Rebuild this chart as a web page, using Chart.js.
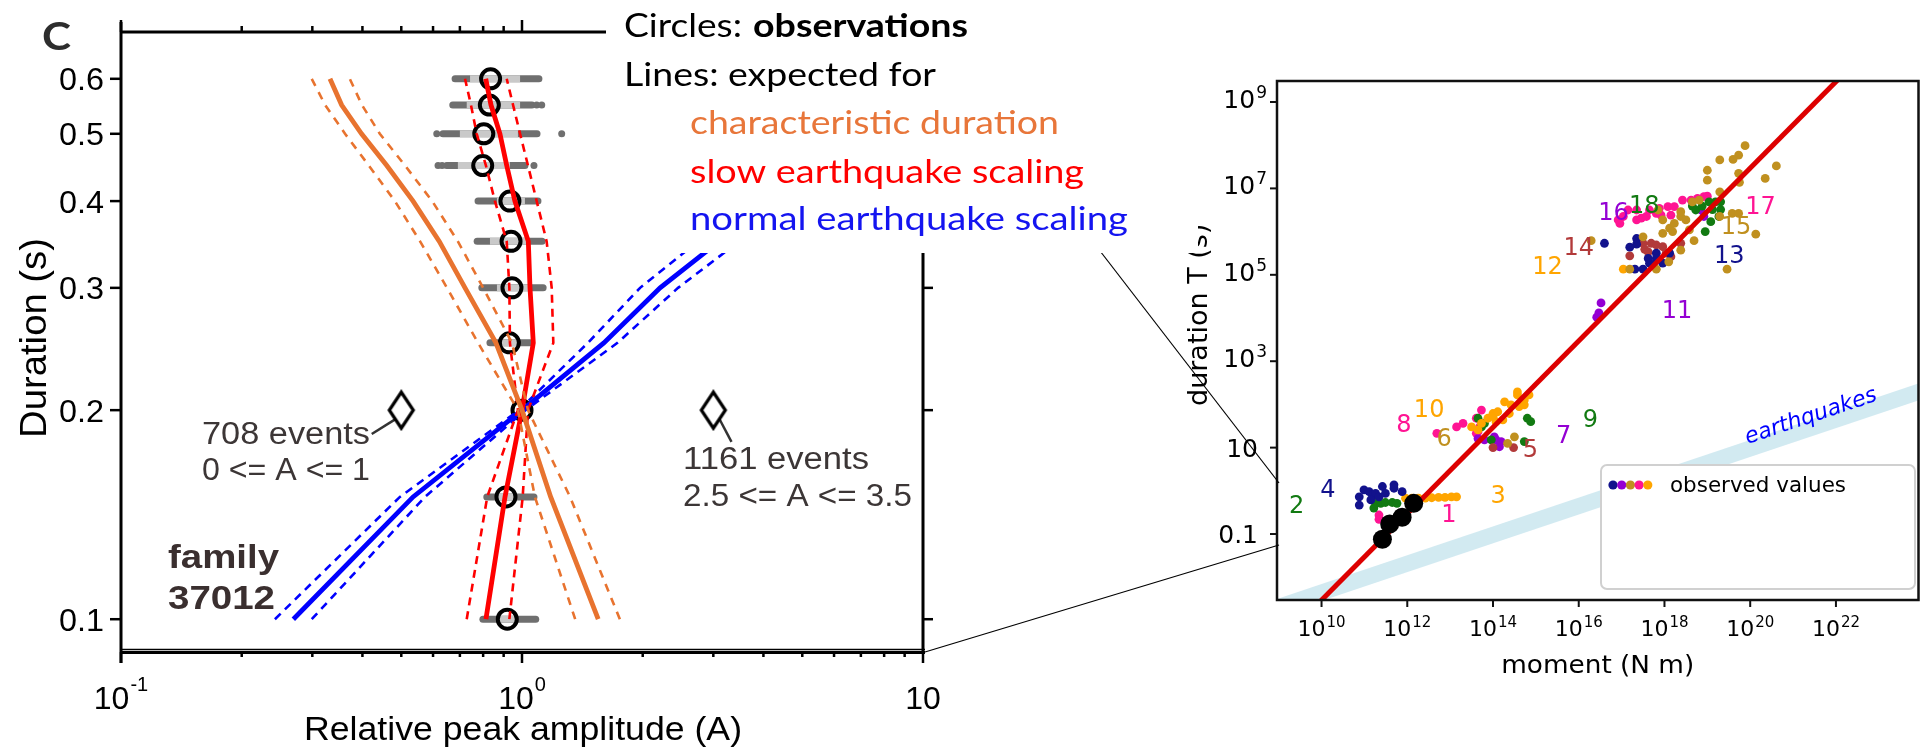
<!DOCTYPE html>
<html>
<head>
<meta charset="utf-8">
<script src="https://cdn.jsdelivr.net/npm/chart.js@4.4.0/dist/chart.umd.min.js"></script>
<style>
  html, body { margin: 0; padding: 0; background: #fff; }
  #wrap { position: relative; width: 1928px; height: 751px; overflow: hidden; background: #fff; }
  #right { position: absolute; left: 1150px; top: 0; z-index: 1; }
  #left { position: absolute; left: 0; top: 0; z-index: 2; }
</style>
</head>
<body>
<div id="wrap">
  <canvas id="right" width="778" height="751"></canvas>
  <canvas id="left" width="1928" height="751"></canvas>
</div>
<script>
// ---------- panel C: relative amplitude vs duration ----------
const durations = [0.1, 0.15, 0.2, 0.25, 0.3, 0.35, 0.4, 0.45, 0.5, 0.55, 0.6];

// observed medians (circles) and spread of individual events (grey bars)
const obsAmp   = [0.919, 0.912, 1.0, 0.930, 0.944, 0.939, 0.933, 0.798, 0.803, 0.829, 0.835];
const spreadLo = [0.799, 0.817, null, 0.832, 0.794, 0.773, 0.777, 0.649, 0.635, 0.672, 0.681];
const boxLo    = [0.865, 0.871, null, 0.891, 0.866, 0.832, 0.866, 0.692, 0.700, 0.728, 0.742];
const boxHi    = [0.970, 0.970, null, 0.977, 1.035, 1.035, 1.017, 0.933, 0.977, 0.989, 0.989];
const spreadHi = [1.082, 1.071, null, 1.047, 1.129, 1.122, 1.096, 1.017, 1.090, 1.059, 1.102];
const outlierAmp = [0.6175, 0.632, 1.071, 0.613, 1.256, 1.088, 1.12];
const outlierDur = [0.45, 0.45, 0.45, 0.5, 0.5, 0.55, 0.55];

// expected curves: characteristic duration (orange)
const charAmp = [1.549, 1.179, 1.0, 0.861, 0.721, 0.622, 0.535, 0.460, 0.398, 0.355, 0.332];
const charLo  = [1.357, 1.077, 0.977, 0.777, 0.650, 0.557, 0.482, 0.415, 0.362, 0.323, 0.299];
const charHi  = [1.754, 1.318, 1.035, 0.944, 0.800, 0.692, 0.597, 0.511, 0.442, 0.399, 0.372];
// slow earthquake scaling (red)
const slowAmp = [0.813, 0.907, 1.0, 1.067, 1.047, 1.037, 0.960, 0.916, 0.881, 0.837, 0.812];
const slowLo  = [0.728, 0.819, 0.977, 0.933, 0.930, 0.916, 0.856, 0.813, 0.771, 0.746, 0.721];
const slowHi  = [0.930, 1.004, 1.035, 1.197, 1.186, 1.152, 1.088, 1.035, 0.989, 0.950, 0.916];
// normal earthquake scaling (blue)
const normDur = [0.1, 0.15, 0.2, 0.25, 0.3, 0.35];
const normAmp = [0.269, 0.535, 1.0, 1.60, 2.21, 3.10];
const normLo  = [0.242, 0.496, 0.983, 1.46, 1.97, 2.75];
const normHi  = [0.299, 0.573, 1.02, 1.73, 2.45, 3.48];

// amplitude bins (diamonds) and their leader lines
const binAmp = [0.5, 3.0];
const binDur = [0.2, 0.2];
const leaderLeftAmp  = [0.422, 0.487];
const leaderLeftDur  = [0.1848, 0.1946];
const leaderRightAmp = [3.10, 3.33];
const leaderRightDur = [0.1947, 0.180];

const leftYTicks = [0.1, 0.2, 0.3, 0.4, 0.5, 0.6];
const leftYLabels = ['0.1', '0.2', '0.3', '0.4', '0.5', '0.6'];
const leftXMajor = [0.1, 1, 10];
const leftXLabels = [['10', '-1'], ['10', '0'], ['10', '']];
const leftXMinor = [0.2, 0.3, 0.4, 0.5, 0.6, 0.7, 0.8, 0.9, 2, 3, 4, 5, 6, 7, 8, 9];

// ---------- inset: moment vs duration, values as log10 ----------
const pinkPts = [[16.96,6.19],[17.04,6.35],[17.15,6.50],[17.35,6.50],[17.35,6.27],[17.46,6.31],[17.58,6.35],
  [17.65,6.50],[17.81,6.42],[17.88,6.54],[18.08,6.58],[18.15,6.38],[18.23,6.58],[18.42,6.73],[18.62,6.73],
  [18.77,6.77],[18.92,6.81],[19.00,6.82],[17.92,6.38],[16.92,6.27],
  [12.69,1.33],[13.15,1.48],[13.30,1.56],[13.61,1.68],[13.73,1.87],[13.69,1.48],[13.65,1.37],[13.61,1.33],
  [11.34,-0.56],[11.34,-0.66]];
const greenPts = [[18.65,6.59],[19.04,6.69],[19.19,6.69],[19.31,6.69],[19.12,6.51],[19.31,6.51],[19.08,6.23],
  [18.95,6.00],[19.27,6.35],[18.73,6.50],[18.88,6.59],
  [13.65,1.68],[13.80,1.56],[13.73,1.48],[13.96,1.18],[14.80,1.68],[14.88,1.60],[14.73,1.14],
  [11.22,-0.40],[11.26,-0.29],[11.38,-0.29],[11.49,-0.27],[11.65,-0.27],[11.76,-0.29]];
const orangePts = [[17.04,5.13],
  [13.73,1.56],[13.88,1.68],[14.00,1.79],[14.11,1.83],[14.27,2.06],[14.42,1.99],[14.57,2.22],[14.73,2.10],
  [14.84,2.22],[14.61,1.95],[14.38,1.79],[14.23,1.64],[14.07,1.60],[13.50,1.48],[13.65,1.41],[14.00,1.72],
  [14.57,2.29],[14.73,1.99],
  [11.96,-0.17],[12.11,-0.17],[12.26,-0.17],[12.42,-0.17],[12.57,-0.16],[12.73,-0.15],[12.88,-0.15],
  [13.03,-0.14],[13.15,-0.14]];
const navyPts = [[16.60,5.73],[17.35,5.84],[17.35,5.71],[17.19,5.64],[17.31,5.13],[17.50,5.13],[17.65,5.27],
  [17.81,5.50],[17.96,5.27],[18.12,5.50],[17.81,5.38],[17.62,5.38],[17.73,5.23],
  [10.88,-0.14],[10.88,-0.33],[10.99,0.02],[11.11,-0.02],[11.19,-0.10],[11.26,-0.06],[11.34,-0.14],
  [11.42,0.10],[11.49,-0.06],[11.69,0.14],[11.69,0.06],[11.88,-0.02],[11.15,-0.21]];
const brownPts = [[17.19,5.44],[17.50,5.73],[17.54,5.59],[17.69,5.73],[17.81,5.69],[17.96,5.65],[18.04,5.50],
  [18.15,5.42],[18.38,5.73],[17.62,5.53],[14.00,1.00],[14.48,1.00]];
const goldPts = [[19.88,7.99],[19.73,7.77],[19.60,7.67],[19.29,7.66],[19.00,7.42],[19.00,7.19],[19.73,7.35],
  [20.61,7.52],[20.35,7.23],[19.75,7.14],[20.13,5.94],[19.58,6.42],[19.73,6.42],[19.46,5.13],[19.29,6.92],
  [19.29,6.35],[18.69,5.79],[18.38,5.57],[18.10,5.30],[17.81,5.13],[17.19,5.13],[17.50,5.88],[16.29,5.79],
  [17.96,6.27],[18.12,6.08],[18.23,6.19],[18.38,6.35],[18.50,6.27],[18.58,6.04],[17.96,5.96],[18.19,6.00],
  [18.81,6.73],[18.38,6.46],[18.65,6.69],[17.85,6.50],[14.34,1.10],[14.50,1.25]];
const purplePts = [[18.85,6.50],[18.92,6.35],
  [13.65,1.21],[13.80,1.18],[14.03,1.25],[14.19,1.14],[14.07,1.18],[14.15,1.02],
  [16.52,4.35],[16.47,4.12],[16.42,4.02]];
const familyPts = [[11.42,-1.12],[11.59,-0.77],[11.88,-0.61],[12.15,-0.29]];

const groupLabels = [['1',12.97,-0.58,'pink'],['2',9.42,-0.37,'green'],['3',14.12,-0.14,'orange'],
  ['4',10.15,0.0,'navy'],['5',14.87,0.93,'brown'],['6',12.86,1.18,'gold'],['7',15.65,1.24,'purple'],
  ['8',11.92,1.5,'pink'],['9',16.27,1.62,'green'],['10',12.51,1.85,'orange'],['11',18.29,4.14,'purple'],
  ['12',15.27,5.16,'orange'],['13',19.51,5.42,'navy'],['14',16.0,5.60,'brown'],['15',19.67,6.08,'gold'],
  ['16',16.81,6.41,'purple'],['17',20.24,6.56,'pink'],['18',17.53,6.58,'green']];

// scaling lines: slow (T ~ M) and regular earthquakes (T ~ M^1/3)
const slowMoment = [1e9, 1e24];
const slowDuration = [2.95e-4, 2.95e11];
const quakeMoment = [1e9, 1e24];
const quakeDuration = [2.06e-3, 2.06e2];

const rightXTicks = [1e10, 1e12, 1e14, 1e16, 1e18, 1e20, 1e22];
const rightXExp = ['10', '12', '14', '16', '18', '20', '22'];
const rightYTicks = [0.1, 10, 1e3, 1e5, 1e7, 1e9];
const rightYLabels = [['0.1', ''], ['10', ''], ['10', '3'], ['10', '5'], ['10', '7'], ['10', '9']];

const colors = {
  pink: '#ff1493', green: '#127a12', orange: '#ffa500', navy: '#12128c',
  brown: '#b23a3a', gold: '#c0901f', purple: '#9400d3'
};
const ORANGE = '#e8732f', RED = '#ff0000', BLUE = '#0000ff';
const GREY_DARK = '#6f6f6f', GREY_LIGHT = '#c9c9c9';

// ---------- helpers ----------
const xy = (xs, ys) => xs.map((x, i) => ({ x: x, y: ys[i] }));
const logPts = pts => pts.map(p => ({ x: Math.pow(10, p[0]), y: Math.pow(10, p[1]) }));

function fitText(ctx, s, x, y, w, font, color, opts) {
  opts = opts || {};
  ctx.save();
  ctx.font = font;
  ctx.fillStyle = color;
  ctx.textBaseline = opts.baseline || 'alphabetic';
  ctx.textAlign = 'left';
  const nat = ctx.measureText(s).width;
  const k = w ? w / nat : (opts.sx || 1);
  ctx.translate(x, y);
  if (opts.rot) ctx.rotate(opts.rot);
  ctx.scale(k, 1);
  let x0 = 0;
  if (opts.align === 'center') x0 = -nat / 2;
  else if (opts.align === 'right') x0 = -nat;
  ctx.fillText(s, x0, 0);
  ctx.restore();
}

function supLabel(ctx, base, sup, x, y, fBase, fSup, rise, align, k) {
  ctx.save();
  ctx.fillStyle = '#000';
  ctx.textBaseline = 'alphabetic';
  ctx.textAlign = 'left';
  ctx.font = fBase;
  const wb = ctx.measureText(base).width;
  ctx.font = fSup;
  const ws = sup ? ctx.measureText(sup).width + 1 : 0;
  const tot = wb + ws;
  ctx.translate(x, y);
  ctx.scale(k, 1);
  const x0 = align === 'center' ? -tot / 2 : align === 'right' ? -tot : 0;
  ctx.font = fBase;
  ctx.fillText(base, x0, 0);
  if (sup) {
    ctx.font = fSup;
    ctx.fillText(sup, x0 + wb + 1, -rise);
  }
  ctx.restore();
}

function seg(ctx, x1, y1, x2, y2) {
  ctx.beginPath();
  ctx.moveTo(x1, y1);
  ctx.lineTo(x2, y2);
  ctx.stroke();
}

// diamond marker for the amplitude bins
const diamond = document.createElement('canvas');
diamond.width = 30; diamond.height = 42;
(function () {
  const c = diamond.getContext('2d');
  c.beginPath();
  c.moveTo(15, 3); c.lineTo(27, 21); c.lineTo(15, 39); c.lineTo(3, 21); c.closePath();
  c.fillStyle = '#fff'; c.fill();
  c.lineWidth = 3.2; c.strokeStyle = '#000'; c.lineJoin = 'miter'; c.stroke();
})();

// ---------- panel C datasets ----------
const leftSets = [];
durations.forEach((d, i) => {
  if (spreadLo[i] === null) return;
  leftSets.push({ data: [{ x: spreadLo[i], y: d }, { x: spreadHi[i], y: d }], showLine: true,
    borderColor: GREY_DARK, borderWidth: 7, borderCapStyle: 'round', pointRadius: 0, order: 20 });
  leftSets.push({ data: [{ x: boxLo[i], y: d }, { x: boxHi[i], y: d }], showLine: true,
    borderColor: GREY_LIGHT, borderWidth: 7, borderCapStyle: 'butt', pointRadius: 0, order: 19 });
});
leftSets.push({ data: xy(outlierAmp, outlierDur), pointRadius: 3.5, backgroundColor: GREY_DARK,
  borderWidth: 0, order: 19 });
leftSets.push({ data: xy(obsAmp, durations), pointRadius: 9.5, borderWidth: 4, borderColor: '#000',
  backgroundColor: 'rgba(0,0,0,0)', order: 10 });

function curve(amps, durs, color, width, dash) {
  return { data: xy(amps, durs), showLine: true, borderColor: color, borderWidth: width,
    borderDash: dash || [], pointRadius: 0, tension: 0, order: 2 };
}
leftSets.push(curve(charLo, durations, ORANGE, 2.6, [8, 7]));
leftSets.push(curve(charHi, durations, ORANGE, 2.6, [8, 7]));
leftSets.push(curve(charAmp, durations, ORANGE, 4.8));
leftSets.push(curve(slowLo, durations, RED, 2.6, [8, 6]));
leftSets.push(curve(slowHi, durations, RED, 2.6, [8, 6]));
leftSets.push(curve(slowAmp, durations, RED, 4.8));
leftSets.push(curve(normLo, normDur, BLUE, 2.6, [8, 6]));
leftSets.push(curve(normHi, normDur, BLUE, 2.6, [8, 6]));
leftSets.push(curve(normAmp, normDur, BLUE, 4.8));
leftSets.push({ data: xy(leaderLeftAmp, leaderLeftDur), showLine: true, borderColor: '#333',
  borderWidth: 2.5, pointRadius: 0, order: 1 });
leftSets.push({ data: xy(leaderRightAmp, leaderRightDur), showLine: true, borderColor: '#333',
  borderWidth: 2.5, pointRadius: 0, order: 1 });
leftSets.push({ data: xy(binAmp, binDur), pointStyle: diamond, pointRadius: 14, order: 0 });

const LF = '"Liberation Sans", Arial, sans-serif';
const CAL = 'Lato, "Open Sans", sans-serif';

const leftDecor = {
  id: 'leftDecor',
  afterDraw(chart) {
    const ctx = chart.ctx;
    const X = v => chart.scales.x.getPixelForValue(v);
    const Y = v => chart.scales.y.getPixelForValue(v);
    const a = chart.chartArea;

    // connector lines to the inset
    ctx.save();
    ctx.strokeStyle = '#000';
    ctx.lineWidth = 1.2;
    seg(ctx, a.right + 2, 24, 1279, 483);
    seg(ctx, a.right + 2, a.bottom, 1279, 545);

    // frame
    ctx.strokeStyle = '#000';
    ctx.lineWidth = 3;
    ctx.lineCap = 'butt';
    seg(ctx, a.left, a.top, a.right, a.top);
    seg(ctx, a.left, a.top - 10, a.left, a.bottom + 11);
    seg(ctx, a.right, a.top, a.right, a.bottom);
    ctx.lineWidth = 1.5;
    seg(ctx, a.left, a.bottom - 2.5, a.right + 2, a.bottom - 2.5);
    ctx.lineWidth = 3;
    seg(ctx, a.left, a.bottom + 0.5, a.right + 2, a.bottom + 0.5);

    // ticks
    ctx.lineWidth = 2.5;
    leftXMinor.forEach(v => {
      seg(ctx, X(v), a.bottom, X(v), a.bottom + 5);
      seg(ctx, X(v), a.top, X(v), a.top - 6);
    });
    leftXMajor.forEach(v => {
      seg(ctx, X(v), a.bottom, X(v), a.bottom + 11);
      seg(ctx, X(v), a.top, X(v), a.top - 12);
    });
    leftYTicks.forEach(v => {
      seg(ctx, a.left - 11, Y(v), a.left, Y(v));
      seg(ctx, a.right, Y(v), a.right + 10, Y(v));
    });
    ctx.restore();

    // tick labels
    leftXMajor.forEach((v, i) => {
      supLabel(ctx, leftXLabels[i][0], leftXLabels[i][1], X(v), 709,
        '32px ' + LF, '20px ' + LF, 18, 'center', 1.0);
    });
    leftYTicks.forEach((v, i) => {
      fitText(ctx, leftYLabels[i], a.left - 17, Y(v) + 11.5, 45, '32px ' + LF, '#000',
        { align: 'right' });
    });

    // axis titles
    fitText(ctx, 'Relative peak amplitude (A)', 523, 740, 438, '34px ' + LF, '#000', { align: 'center' });
    fitText(ctx, 'Duration (s)', 46, 338, 200, '36px ' + LF, '#000', { align: 'center', rot: -Math.PI / 2 });

    // white block holding the key, hides the upper right corner
    ctx.fillStyle = '#fff';
    ctx.fillRect(606, 0, 592, 253);

    fitText(ctx, 'Circles:', 624, 37, 118, '32px ' + CAL, '#000');
    fitText(ctx, 'observations', 753, 37, 215, 'bold 32px ' + CAL, '#000');
    fitText(ctx, 'Lines: expected for', 624, 86, 312, '32px ' + CAL, '#000');
    fitText(ctx, 'characteristic duration', 690, 134, 369, '32px ' + CAL, '#e8763a');
    fitText(ctx, 'slow earthquake scaling', 690, 183, 394, '32px ' + CAL, '#ff0000');
    fitText(ctx, 'normal earthquake scaling', 690, 230, 438, '32px ' + CAL, '#1414f0');

    // panel letter and annotations
    fitText(ctx, 'C', 42, 50, 29, 'bold 38px ' + CAL, '#2d2d2d');
    const ann = '#3c3636';
    fitText(ctx, '708 events', 202, 444, 168, '31px ' + LF, ann);
    fitText(ctx, '0 <= A <= 1', 202, 480, 168, '31px ' + LF, ann);
    fitText(ctx, '1161 events', 683, 469, 186, '31px ' + LF, ann);
    fitText(ctx, '2.5 <= A <= 3.5', 683, 506, 229, '31px ' + LF, ann);
    fitText(ctx, 'family', 168, 568, 111, 'bold 33px ' + LF, '#3a2f2f');
    fitText(ctx, '37012', 168, 609, 107, 'bold 33px ' + LF, '#3a2f2f');
  }
};

new Chart(document.getElementById('left').getContext('2d'), {
  type: 'scatter',
  data: { datasets: leftSets },
  options: {
    responsive: false,
    animation: false,
    devicePixelRatio: 1,
    events: [],
    layout: { padding: { left: 121, top: 32, right: 1005, bottom: 99 } },
    plugins: { legend: { display: false }, tooltip: { enabled: false } },
    scales: {
      x: { type: 'logarithmic', min: 0.1, max: 10, display: false },
      y: { type: 'logarithmic', min: 0.0897, max: 0.7007, display: false }
    }
  },
  plugins: [leftDecor]
});

// ---------- inset datasets ----------
const rightSets = [
  { data: xy(quakeMoment, quakeDuration), showLine: true, borderColor: 'rgba(173,216,230,0.55)',
    borderWidth: 16, pointRadius: 0, order: 6 },
  { data: logPts(goldPts), backgroundColor: colors.gold },
  { data: logPts(navyPts), backgroundColor: colors.navy },
  { data: logPts(brownPts), backgroundColor: colors.brown },
  { data: logPts(orangePts), backgroundColor: colors.orange },
  { data: logPts(greenPts), backgroundColor: colors.green },
  { data: logPts(purplePts), backgroundColor: colors.purple },
  { data: logPts(pinkPts), backgroundColor: colors.pink },
  { data: xy(slowMoment, slowDuration), showLine: true, borderColor: '#dd0000', borderWidth: 5,
    pointRadius: 0, order: 2 },
  { data: logPts(familyPts), backgroundColor: '#000', pointRadius: 9.5, borderWidth: 0, order: 1 }
];
rightSets.forEach(s => {
  if (s.order === undefined) { s.order = 4; s.pointRadius = 4.4; s.borderWidth = 0; }
});

const DV = '"DejaVu Sans", sans-serif';
const rightDecor = {
  id: 'rightDecor',
  afterDraw(chart) {
    const ctx = chart.ctx;
    const X = v => chart.scales.x.getPixelForValue(v);
    const Y = v => chart.scales.y.getPixelForValue(v);
    const a = chart.chartArea;

    // group numbers
    ctx.save();
    ctx.font = '24px ' + DV;
    ctx.textAlign = 'center';
    ctx.textBaseline = 'middle';
    groupLabels.forEach(g => {
      ctx.fillStyle = colors[g[3]];
      ctx.fillText(g[0], X(Math.pow(10, g[1])), Y(Math.pow(10, g[2])));
    });
    ctx.restore();

    // label along the earthquake band
    const p1x = X(Math.pow(10, 20.0)), p1y = Y(quakeDuration[0] * Math.pow(10, (20.0 - 9) / 3));
    const p2x = X(Math.pow(10, 23.0)), p2y = Y(quakeDuration[0] * Math.pow(10, (23.0 - 9) / 3));
    const ang = Math.atan2(p2y - p1y, p2x - p1x);
    ctx.save();
    ctx.translate((p1x + p2x) / 2, (p1y + p2y) / 2);
    ctx.rotate(ang);
    ctx.font = 'italic 22px ' + DV;
    ctx.fillStyle = '#0000ff';
    ctx.textAlign = 'center';
    ctx.textBaseline = 'alphabetic';
    ctx.fillText('earthquakes', 0, -5);
    ctx.restore();

    // legend
    const lx = 1601 - 1150, ly = 465;
    ctx.save();
    ctx.beginPath();
    ctx.roundRect(lx, ly, 314, 124, 6);
    ctx.fillStyle = '#fff';
    ctx.fill();
    ctx.strokeStyle = '#d0d0d0';
    ctx.lineWidth = 2;
    ctx.stroke();
    ['navy', 'purple', 'gold', 'pink', 'orange'].forEach((c, i) => {
      ctx.beginPath();
      ctx.arc(lx + 12 + i * 8.7, ly + 20, 4.6, 0, Math.PI * 2);
      ctx.fillStyle = colors[c];
      ctx.fill();
    });
    ctx.restore();
    fitText(ctx, 'observed values', lx + 69, ly + 27, 176, '22px ' + DV, '#000');

    // frame and ticks
    ctx.save();
    ctx.strokeStyle = '#111';
    ctx.lineWidth = 2.5;
    ctx.strokeRect(a.left, a.top, a.right - a.left, a.bottom - a.top);
    ctx.lineWidth = 2;
    rightXTicks.forEach(v => seg(ctx, X(v), a.bottom, X(v), a.bottom + 7));
    rightYTicks.forEach(v => seg(ctx, a.left - 7, Y(v), a.left, Y(v)));
    ctx.restore();

    rightXTicks.forEach((v, i) => {
      supLabel(ctx, '10', rightXExp[i], X(v), 636, '22px ' + DV, '15px ' + DV, 9, 'center', 1.0);
    });
    rightYTicks.forEach((v, i) => {
      const lab = rightYLabels[i];
      if (lab[1]) supLabel(ctx, lab[0], lab[1], a.left - 10, Y(v) + 6, '25px ' + DV, '17px ' + DV, 10, 'right', 1.0);
      else supLabel(ctx, lab[0], '', a.left - 19, Y(v) + 9, '25px ' + DV, '17px ' + DV, 0, 'right', 1.0);
    });

    fitText(ctx, 'moment (N m)', (a.left + a.right) / 2, 673, 193, '24px ' + DV, '#000', { align: 'center' });
    fitText(ctx, 'duration T (s)', 1207 - 1150, 406, null, '27px ' + DV, '#000', { rot: -Math.PI / 2 });
  }
};

new Chart(document.getElementById('right').getContext('2d'), {
  type: 'scatter',
  data: { datasets: rightSets },
  options: {
    responsive: false,
    animation: false,
    devicePixelRatio: 1,
    events: [],
    layout: { padding: { left: 127, top: 81, right: 3, bottom: 151 } },
    plugins: { legend: { display: false }, tooltip: { enabled: false } },
    scales: {
      x: { type: 'logarithmic', min: Math.pow(10, 8.961), max: Math.pow(10, 23.926), display: false },
      y: { type: 'logarithmic', min: Math.pow(10, -2.527), max: Math.pow(10, 9.486), display: false }
    }
  },
  plugins: [rightDecor]
});
</script>
</body>
</html>
